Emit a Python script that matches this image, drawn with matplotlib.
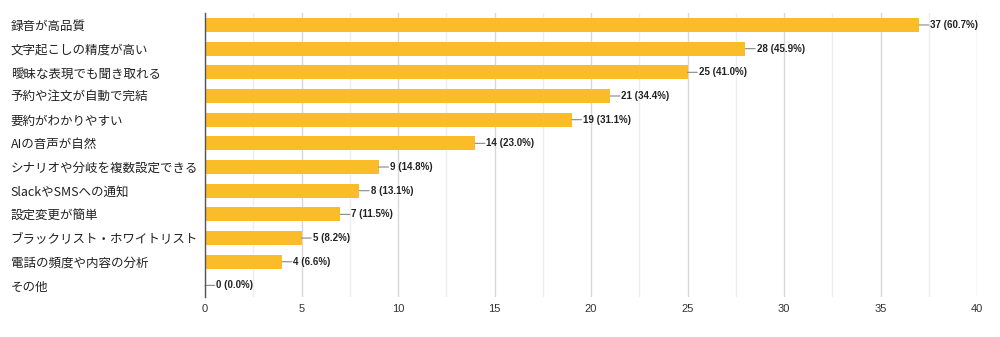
import matplotlib
matplotlib.use("Agg")
import matplotlib.pyplot as plt
from matplotlib.ticker import MultipleLocator

plt.rcParams['font.family'] = ['Noto Sans CJK JP', 'DejaVu Sans']

categories = ["録音が高品質", "文字起こしの精度が高い", "曖昧な表現でも聞き取れる",
              "予約や注文が自動で完結", "要約がわかりやすい", "AIの音声が自然",
              "シナリオや分岐を複数設定できる", "SlackやSMSへの通知", "設定変更が簡単",
              "ブラックリスト・ホワイトリスト", "電話の頻度や内容の分析", "その他"]
counts = [37, 28, 25, 21, 19, 14, 9, 8, 7, 5, 4, 0]
percents = [60.7, 45.9, 41.0, 34.4, 31.1, 23.0, 14.8, 13.1, 11.5, 8.2, 6.6, 0.0]
xticks = [0, 5, 10, 15, 20, 25, 30, 35, 40]

fig = plt.figure(figsize=(10, 3.37), dpi=100)
ax = fig.add_axes([0.205, 0.118, 0.772, 0.843])

ypos = list(range(len(categories)))
ax.barh(ypos, counts, height=0.6, color='#FBBC2A', zorder=3)
ax.set_ylim(len(categories) - 0.5, -0.5)
ax.set_xlim(0, 40)

ax.set_xticks(xticks)
ax.set_xticklabels([str(t) for t in xticks], family=['Liberation Sans'], fontsize=8, color='#333333')
ax.xaxis.set_minor_locator(MultipleLocator(2.5))
ax.grid(axis='x', which='major', color='#d9d9d9', linewidth=1.0, zorder=0)
ax.grid(axis='x', which='minor', color='#eeeeee', linewidth=1.0, zorder=0)
ax.tick_params(axis='x', which='both', length=0, pad=5)

ax.set_yticks(ypos)
ax.set_yticklabels(categories, fontsize=9, color='#222222')
for lbl in ax.get_yticklabels():
    lbl.set_horizontalalignment('left')
ax.tick_params(axis='y', length=0, pad=140)

for s in ['top', 'right', 'bottom']:
    ax.spines[s].set_visible(False)
ax.spines['left'].set_color('#555555')
ax.spines['left'].set_linewidth(1.0)
ax.spines['left'].set_zorder(4)

for y, c, p in zip(ypos, counts, percents):
    ax.annotate('', xy=(c, y), xytext=(7, 0), textcoords='offset points',
                arrowprops=dict(arrowstyle='-', color='#888888', lw=0.8,
                                shrinkA=0, shrinkB=0), zorder=4)
    ax.annotate(f"{c} ({p:.1f}%)", xy=(c, y), xytext=(8, 0), textcoords='offset points',
                ha='left', va='center', fontsize=7, fontweight='bold',
                family=['Liberation Sans'], color='#222222', zorder=5)

fig.savefig('out.png', dpi=100, facecolor='white')
